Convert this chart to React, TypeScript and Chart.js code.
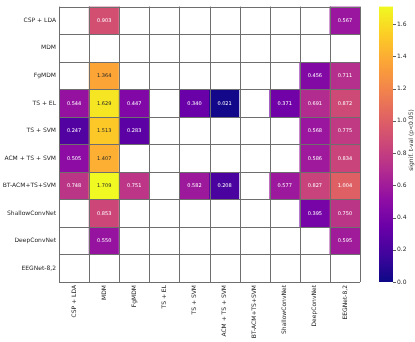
import { useEffect, useRef } from "react";
import { Chart, registerables } from "chart.js";
Chart.register(...registerables);

const rowLabels = [
  "CSP + LDA", "MDM", "FgMDM", "TS + EL", "TS + SVM",
  "ACM + TS + SVM", "BT-ACM+TS+SVM", "ShallowConvNet", "DeepConvNet", "EEGNet-8,2",
];
const colLabels = [
  "CSP + LDA", "MDM", "FgMDM", "TS + EL", "TS + SVM",
  "ACM + TS + SVM", "BT-ACM+TS+SVM", "ShallowConvNet", "DeepConvNet", "EEGNet-8,2",
];

const rowCspLda = [null, 0.903, null, null, null, null, null, null, null, 0.567];
const rowMdm = [null, null, null, null, null, null, null, null, null, null];
const rowFgMdm = [null, 1.364, null, null, null, null, null, null, 0.456, 0.711];
const rowTsEl = [0.544, 1.629, 0.447, null, 0.34, 0.021, null, 0.371, 0.691, 0.872];
const rowTsSvm = [0.247, 1.513, 0.283, null, null, null, null, null, 0.568, 0.775];
const rowAcm = [0.505, 1.407, null, null, null, null, null, null, 0.586, 0.834];
const rowBtAcm = [0.748, 1.709, 0.751, null, 0.582, 0.208, null, 0.577, 0.827, 1.004];
const rowShallow = [null, 0.853, null, null, null, null, null, null, 0.395, 0.75];
const rowDeep = [null, 0.55, null, null, null, null, null, null, null, 0.595];
const rowEegnet = [null, null, null, null, null, null, null, null, null, null];

const matrix: (number | null)[][] = [
  rowCspLda, rowMdm, rowFgMdm, rowTsEl, rowTsSvm, rowAcm, rowBtAcm, rowShallow, rowDeep, rowEegnet,
];

const vMin = 0;
const vMax = 1.709;
const cbarTicks = [0.0, 0.2, 0.4, 0.6, 0.8, 1.0, 1.2, 1.4, 1.6];
const cbarLabel = "signif. t-val (p<0.05)";

const plasmaStops = [
  "#0d0887", "#41049d", "#6a00a8", "#8f0da4", "#b12a90", "#cc4778",
  "#e16462", "#f2844b", "#fca636", "#fcce25", "#f0f921",
];

function hexToRgb(h: string) {
  return [parseInt(h.slice(1, 3), 16), parseInt(h.slice(3, 5), 16), parseInt(h.slice(5, 7), 16)];
}
function plasmaRgb(t: number) {
  t = Math.max(0, Math.min(1, t));
  const n = plasmaStops.length - 1;
  const i = Math.min(n - 1, Math.floor(t * n));
  const f = t * n - i;
  const a = hexToRgb(plasmaStops[i]);
  const b = hexToRgb(plasmaStops[i + 1]);
  return a.map((v, k) => Math.round(v + (b[k] - v) * f));
}
function plasma(t: number) {
  const [r, g, b] = plasmaRgb(t);
  return `rgb(${r},${g},${b})`;
}
function textColorFor(t: number) {
  const lin = plasmaRgb(t).map((v) => {
    const c = v / 255;
    return c <= 0.03928 ? c / 12.92 : Math.pow((c + 0.055) / 1.055, 2.4);
  });
  const lum = 0.2126 * lin[0] + 0.7152 * lin[1] + 0.0722 * lin[2];
  return lum > 0.408 ? "#262626" : "#ffffff";
}
const norm = (v: number) => (v - vMin) / (vMax - vMin);

const FONT = "'DejaVu Sans', sans-serif";

const overlayPlugin = {
  id: "heatOverlay",
  afterDatasetsDraw(chart: any) {
    const ctx = chart.ctx;
    const { left, right, top, bottom } = chart.chartArea;
    const ys = chart.scales.y;
    const nCols = colLabels.length;
    const cw = (right - left) / nCols;
    ctx.save();
    // grid lines
    ctx.strokeStyle = "#6e6e6e";
    ctx.lineWidth = 1;
    ctx.beginPath();
    for (let i = 0; i <= nCols; i++) {
      const x = Math.round(left + i * cw) + 0.5;
      ctx.moveTo(x, top);
      ctx.lineTo(x, bottom);
    }
    for (let r = 0; r <= rowLabels.length; r++) {
      const y = Math.round(ys.getPixelForValue(r)) + 0.5;
      ctx.moveTo(left, y);
      ctx.lineTo(right, y);
    }
    ctx.stroke();
    // annotations
    ctx.font = `5px ${FONT}`;
    ctx.textAlign = "center";
    ctx.textBaseline = "middle";
    matrix.forEach((row, r) => {
      const meta = chart.getDatasetMeta(r);
      row.forEach((v, c) => {
        if (v === null) return;
        const el = meta.data[c];
        const p = el.getCenterPoint();
        ctx.fillStyle = textColorFor(norm(v));
        ctx.fillText(v.toFixed(3), p.x, p.y + 0.5);
      });
    });
    // colorbar
    const cbL = 379;
    const cbR = 393;
    const grad = ctx.createLinearGradient(0, bottom, 0, top);
    for (let i = 0; i <= 50; i++) grad.addColorStop(i / 50, plasma(i / 50));
    ctx.fillStyle = grad;
    ctx.fillRect(cbL, top, cbR - cbL, bottom - top);
    ctx.strokeStyle = "#333";
    ctx.fillStyle = "#262626";
    ctx.font = `6px ${FONT}`;
    ctx.textAlign = "left";
    ctx.textBaseline = "middle";
    ctx.beginPath();
    cbarTicks.forEach((t) => {
      const y = bottom - norm(t) * (bottom - top);
      ctx.moveTo(cbR, Math.round(y) + 0.5);
      ctx.lineTo(cbR + 3, Math.round(y) + 0.5);
      ctx.fillText(t.toFixed(1), cbR + 4, y);
    });
    ctx.lineWidth = 0.8;
    ctx.stroke();
    ctx.save();
    ctx.translate(411, 140);
    ctx.rotate(-Math.PI / 2);
    ctx.textAlign = "center";
    ctx.fillText(cbarLabel, 0, 0);
    ctx.restore();
    ctx.restore();
  },
};

export default function App() {
  const ref = useRef<HTMLCanvasElement | null>(null);
  useEffect(() => {
    document.body.style.margin = "0";
    if (!ref.current) return;
    const datasets = matrix.map((row, r) => ({
      label: rowLabels[r],
      data: colLabels.map(() => [r, r + 1]),
      backgroundColor: row.map((v) => (v === null ? "#ffffff" : plasma(norm(v)))),
      borderWidth: 0,
      barPercentage: 1,
      categoryPercentage: 1,
      grouped: false,
    }));
    const chart = new Chart(ref.current, {
      type: "bar",
      data: { labels: colLabels, datasets: datasets as any },
      options: {
        animation: false,
        responsive: false,
        maintainAspectRatio: false,
        layout: { padding: { top: 1, right: 55, left: 0, bottom: 0 } },
        plugins: { legend: { display: false }, tooltip: { enabled: false } },
        scales: {
          x: {
            grid: { display: false, drawTicks: false },
            border: { display: false },
            ticks: {
              maxRotation: 90,
              minRotation: 90,
              autoSkip: false,
              padding: 3,
              color: "#262626",
              font: { family: FONT, size: 6 },
            },
            afterFit: (s: any) => { s.height = 60; },
          },
          y: {
            type: "linear",
            min: 0,
            max: rowLabels.length,
            reverse: true,
            grid: { display: false, drawTicks: false },
            border: { display: false },
            afterBuildTicks: (s: any) => {
              s.ticks = rowLabels.map((_, i) => ({ value: i + 0.5 }));
            },
            ticks: {
              autoSkip: false,
              padding: 3,
              color: "#262626",
              font: { family: FONT, size: 6 },
              callback: (v: any) => rowLabels[Math.floor(Number(v))] ?? "",
            },
            afterFit: (s: any) => { s.width = 59; },
          },
        },
      },
      plugins: [overlayPlugin],
    });
    return () => chart.destroy();
  }, []);
  return (
    <div style={{ position: "fixed", left: 0, top: 0, width: 415, height: 342 }}>
      <canvas ref={ref} width={415} height={342} style={{ width: 415, height: 342 }} />
    </div>
  );
}
